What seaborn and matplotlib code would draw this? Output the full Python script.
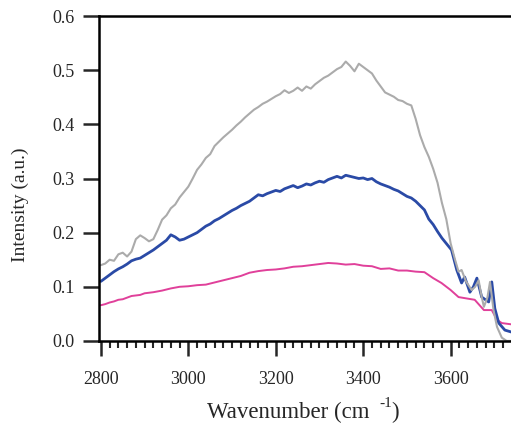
import numpy as np
import pandas as pd
import matplotlib
matplotlib.use("Agg")
import matplotlib.pyplot as plt
from matplotlib.ticker import MultipleLocator
import seaborn as sns

gray_x = [2800, 2810, 2820, 2830, 2840, 2850, 2860, 2870, 2880, 2890, 2900, 2910, 2920, 2930,
          2940, 2950, 2960, 2970, 2980, 2990, 3000, 3010, 3020, 3030, 3040, 3050, 3060, 3070,
          3080, 3090, 3100, 3110, 3120, 3130, 3140, 3150, 3160, 3170, 3180, 3190, 3200, 3210,
          3220, 3230, 3240, 3250, 3260, 3270, 3280, 3290, 3300, 3310, 3320, 3330, 3340, 3350,
          3360, 3370, 3380, 3390, 3400, 3410, 3420, 3430, 3440, 3450, 3460, 3470, 3480, 3490,
          3500, 3510, 3520, 3530, 3540, 3550, 3560, 3570, 3580, 3590, 3600, 3610, 3618, 3625,
          3635, 3648, 3656, 3664, 3670, 3676, 3684, 3690, 3698, 3706, 3717, 3728, 3745]
gray_y = [0.140, 0.143, 0.150, 0.148, 0.160, 0.163, 0.156, 0.165, 0.188, 0.195, 0.190, 0.184,
          0.188, 0.205, 0.224, 0.232, 0.245, 0.252, 0.265, 0.275, 0.285, 0.300, 0.316, 0.326,
          0.338, 0.345, 0.360, 0.368, 0.376, 0.383, 0.390, 0.398, 0.405, 0.413, 0.420, 0.427,
          0.432, 0.438, 0.442, 0.447, 0.452, 0.456, 0.463, 0.458, 0.462, 0.468, 0.462, 0.470,
          0.466, 0.474, 0.480, 0.486, 0.490, 0.496, 0.502, 0.506, 0.516, 0.508, 0.498, 0.512,
          0.506, 0.500, 0.494, 0.481, 0.470, 0.459, 0.455, 0.451, 0.445, 0.443, 0.438, 0.435,
          0.410, 0.380, 0.358, 0.340, 0.318, 0.292, 0.255, 0.225, 0.180, 0.150, 0.128, 0.131,
          0.110, 0.094, 0.100, 0.112, 0.085, 0.063, 0.080, 0.109, 0.057, 0.026, 0.006, 0.000,
          0.000]

blue_x = [2800, 2810, 2820, 2830, 2840, 2850, 2860, 2870, 2880, 2890, 2900, 2910, 2920, 2930,
          2940, 2950, 2960, 2970, 2980, 2990, 3000, 3010, 3020, 3030, 3040, 3050, 3060, 3070,
          3080, 3090, 3100, 3110, 3120, 3130, 3140, 3150, 3160, 3170, 3180, 3190, 3200, 3210,
          3220, 3230, 3240, 3250, 3260, 3270, 3280, 3290, 3300, 3310, 3320, 3330, 3340, 3350,
          3360, 3370, 3380, 3390, 3400, 3410, 3420, 3430, 3440, 3450, 3460, 3470, 3480, 3490,
          3500, 3510, 3520, 3530, 3540, 3550, 3560, 3570, 3580, 3590, 3602, 3614, 3625, 3632,
          3644, 3652, 3660, 3671, 3687, 3694, 3701, 3710, 3724, 3745]
blue_y = [0.110, 0.116, 0.122, 0.128, 0.133, 0.137, 0.142, 0.148, 0.151, 0.153, 0.158, 0.163,
          0.168, 0.174, 0.180, 0.186, 0.196, 0.192, 0.186, 0.188, 0.192, 0.196, 0.200, 0.206,
          0.212, 0.216, 0.222, 0.226, 0.231, 0.236, 0.241, 0.245, 0.250, 0.254, 0.258, 0.264,
          0.270, 0.268, 0.272, 0.275, 0.278, 0.276, 0.281, 0.284, 0.287, 0.283, 0.286, 0.290,
          0.288, 0.292, 0.295, 0.293, 0.298, 0.301, 0.304, 0.301, 0.306, 0.304, 0.302, 0.300,
          0.301, 0.298, 0.300, 0.294, 0.290, 0.287, 0.284, 0.280, 0.277, 0.272, 0.267, 0.264,
          0.258, 0.250, 0.242, 0.225, 0.215, 0.202, 0.190, 0.180, 0.168, 0.131, 0.107, 0.118,
          0.090, 0.100, 0.116, 0.081, 0.072, 0.109, 0.060, 0.033, 0.020, 0.015]

pink_x = [2800, 2810, 2820, 2830, 2840, 2850, 2860, 2870, 2880, 2890, 2900, 2920, 2940, 2960,
          2980, 3000, 3020, 3040, 3060, 3080, 3100, 3120, 3140, 3160, 3180, 3200, 3220, 3240,
          3260, 3280, 3300, 3320, 3340, 3360, 3380, 3400, 3420, 3440, 3460, 3480, 3500, 3520,
          3540, 3560, 3579, 3600, 3618, 3640, 3655, 3676, 3694, 3706, 3717, 3745]
pink_y = [0.066, 0.068, 0.071, 0.073, 0.076, 0.077, 0.080, 0.083, 0.084, 0.085, 0.088, 0.090,
          0.093, 0.097, 0.100, 0.101, 0.103, 0.104, 0.108, 0.112, 0.116, 0.120, 0.126, 0.129,
          0.131, 0.132, 0.134, 0.137, 0.138, 0.140, 0.142, 0.144, 0.143, 0.141, 0.142, 0.139,
          0.138, 0.133, 0.134, 0.130, 0.130, 0.128, 0.127, 0.116, 0.107, 0.094, 0.081, 0.078,
          0.076, 0.057, 0.057, 0.039, 0.033, 0.030]

xticks = [2800, 3000, 3200, 3400, 3600]
yticks = [0.0, 0.1, 0.2, 0.3, 0.4, 0.5, 0.6]
xlabel_main = "Wavenumber (cm"
xlabel_sup = "-1"
xlabel_close = ")"
ylabel = "Intensity (a.u.)"

sns.set_style("white")
plt.rcParams["font.family"] = ["Liberation Serif", "DejaVu Serif"]

W, H = 511, 423
fig = plt.figure(figsize=(W / 100, H / 100), dpi=100)
ax = fig.add_axes([0.194, 0.194, 0.806, 0.768])

sns.lineplot(x=pink_x, y=pink_y, ax=ax, color="#e0409a", lw=1.4)
sns.lineplot(x=blue_x, y=blue_y, ax=ax, color="#2a4aa6", lw=2.0)
sns.lineplot(x=gray_x, y=gray_y, ax=ax, color="#ababab", lw=1.5)

ax.set_xlim(2796, 3738)
ax.set_ylim(0, 0.6)
ax.set_xticks(xticks)
ax.set_yticks(yticks)
ax.set_yticklabels([f"{v:.1f}" for v in yticks])
ax.xaxis.set_minor_locator(MultipleLocator(20))

for s in ["left", "bottom", "top"]:
    ax.spines[s].set_visible(True)
    ax.spines[s].set_color("black")
    ax.spines[s].set_linewidth(1.8)
ax.spines["right"].set_visible(False)

ax.tick_params(axis="y", which="major", direction="out", length=11.5, width=1.8, pad=6,
               labelsize=13, left=True)
ax.tick_params(axis="x", which="major", direction="out", length=11, width=1.8, pad=11,
               labelsize=13, bottom=True)
ax.tick_params(axis="x", which="minor", direction="out", length=5, width=1.5, bottom=True)

ax.set_xlabel("")
ax.set_ylabel(ylabel, fontsize=14)
ax.yaxis.set_label_coords(-0.17, 0.42)

# x-axis title, with the raised superscript as in the original figure
fig.text(207 / W, 1 - 418 / H, xlabel_main, fontsize=16.5, ha="left", va="baseline")
fig.text(379 / W, 1 - 407 / H, xlabel_sup, fontsize=11, ha="left", va="baseline")
fig.text(391 / W, 1 - 418 / H, xlabel_close, fontsize=16.5, ha="left", va="baseline")

fig.savefig("out.png", dpi=100)
